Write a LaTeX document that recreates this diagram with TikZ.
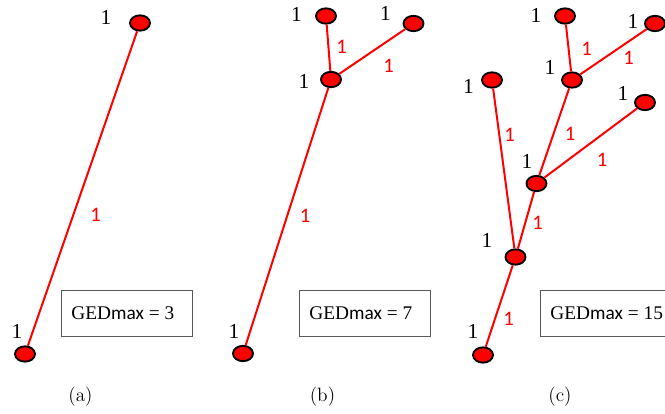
\documentclass[tikz,border=0pt]{standalone}
\usepackage{fontspec}
\usepackage{tikz}
\usetikzlibrary{shapes.geometric}
\newfontfamily\numserif{Liberation Serif}
\newfontfamily\numsans{Carlito}
\tikzset{
  vtx/.style={ellipse, draw=black, fill=red, line width=1.4pt, minimum width=15pt, minimum height=11.5pt, inner sep=0pt},
  edge/.style={red, line width=1.5pt},
  cnt/.style={inner sep=0pt, font=\numserif\fontsize{16}{16}\selectfont},
  wt/.style={inner sep=0pt, text=red, font=\numsans\fontsize{15.5}{15.5}\selectfont},
  gedbox/.style={draw=black!65, line width=0.7pt, anchor=west, inner xsep=7.5pt, minimum height=35pt, font=\numserif\fontsize{14.5}{16}\selectfont},
  subcap/.style={inner sep=0pt, font=\fontsize{14.5}{14.5}\selectfont}
}
\newcommand{\gedtext}[1]{\makebox[83pt][l]{GED{\numsans max} = #1}}
\begin{document}
\begin{tikzpicture}[x=0.75pt, y=-0.75pt]
  \useasboundingbox (0,0) rectangle (665,414);
  % (a)
  \node[vtx] (a1) at (140,23) {};
  \node[vtx] (a2) at (25,354) {};
  \draw[edge] (a1) -- (a2);
  \node[cnt] (la1) at (106,17) {1};
  \node[cnt] (la2) at (17,331) {1};
  \node[wt] (wa1) at (95.5,215) {1};
  \node[gedbox] (ga) at (61,313.5) {\gedtext{3}};
  \node[subcap] (ca) at (80.5,397) {(a)};
  % (b)
  \node[vtx] (b1) at (326,16) {};
  \node[vtx] (b2) at (413.5,23.5) {};
  \node[vtx] (b3) at (331,79.5) {};
  \node[vtx] (b4) at (243,353.5) {};
  \draw[edge] (b1) -- (b3);
  \draw[edge] (b2) -- (b3);
  \draw[edge] (b3) -- (b4);
  \node[cnt] (lb1) at (296.5,14) {1};
  \node[cnt] (lb2) at (385.5,13.5) {1};
  \node[cnt] (lb3) at (304,81) {1};
  \node[cnt] (lb4) at (234,331) {1};
  \node[wt] (wb1) at (341.5,46.5) {1};
  \node[wt] (wb2) at (388.5,66) {1};
  \node[wt] (wb3) at (305,215.5) {1};
  \node[gedbox] (gb) at (299,313.5) {\gedtext{7}};
  \node[subcap] (cb) at (322.5,397) {(b)};
  % (c)
  \node[vtx] (c1) at (565,16) {};
  \node[vtx] (c2) at (655,23.5) {};
  \node[vtx] (c3) at (572,80) {};
  \node[vtx] (c4) at (492,80) {};
  \node[vtx] (c5) at (645,102.5) {};
  \node[vtx] (c6) at (536.5,183.5) {};
  \node[vtx] (c7) at (515.5,257) {};
  \node[vtx] (c8) at (483,355) {};
  \draw[edge] (c1) -- (c3);
  \draw[edge] (c2) -- (c3);
  \draw[edge] (c3) -- (c6);
  \draw[edge] (c5) -- (c6);
  \draw[edge] (c6) -- (c7);
  \draw[edge] (c4) -- (c7);
  \draw[edge] (c7) -- (c8);
  \node[cnt] (lc1) at (536,15) {1};
  \node[cnt] (lc2) at (633,21.5) {1};
  \node[cnt] (lc3) at (550,67.5) {1};
  \node[cnt] (lc4) at (468.5,86) {1};
  \node[cnt] (lc5) at (623,93.5) {1};
  \node[cnt] (lc6) at (527,161.5) {1};
  \node[cnt] (lc7) at (487,240) {1};
  \node[cnt] (lc8) at (473,331.5) {1};
  \node[wt] (wc1) at (586.5,48.5) {1};
  \node[wt] (wc2) at (628.5,57.5) {1};
  \node[wt] (wc3) at (509.5,135) {1};
  \node[wt] (wc4) at (570,133.5) {1};
  \node[wt] (wc5) at (602,159.5) {1};
  \node[wt] (wc6) at (537.5,223) {1};
  \node[wt] (wc7) at (508.5,318.5) {1};
  \node[gedbox] (gc) at (540,313.5) {\gedtext{15}};
  \node[subcap] (cc) at (560,397) {(c)};
\end{tikzpicture}
\end{document}
